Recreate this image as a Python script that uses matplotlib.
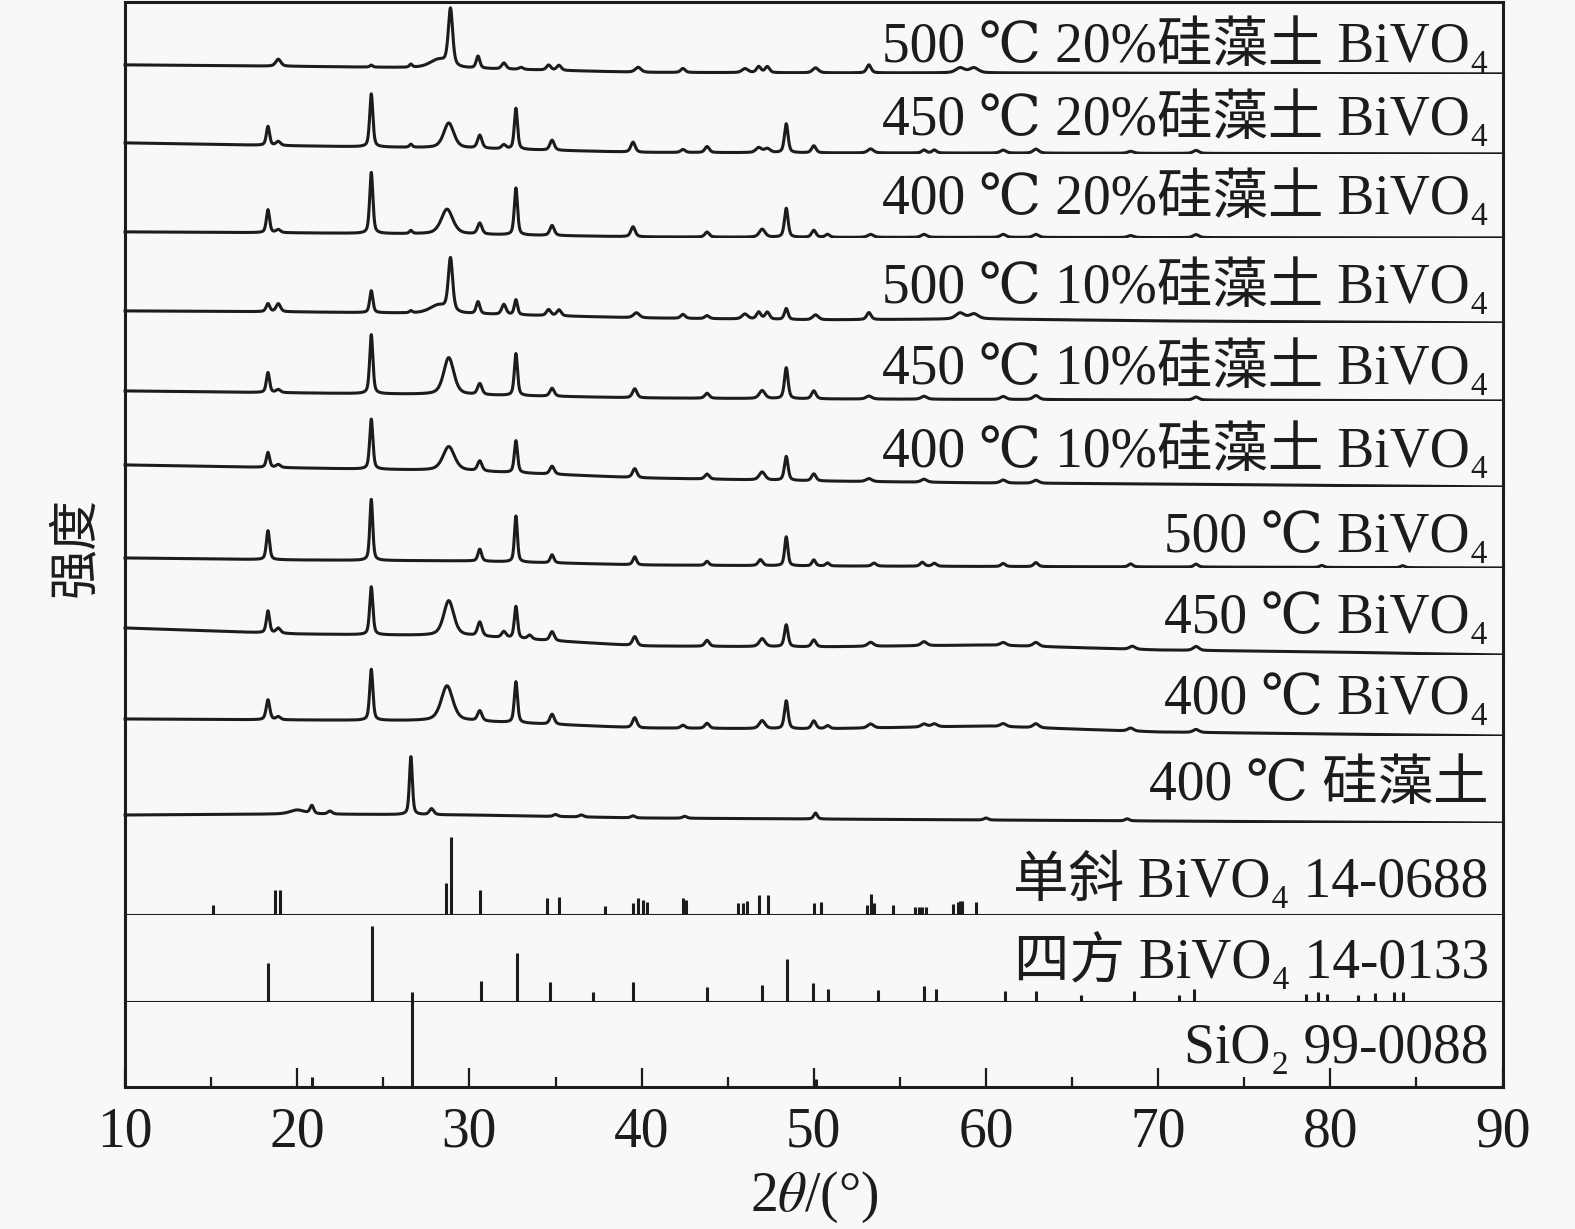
import numpy as np
import matplotlib
matplotlib.use("Agg")
import matplotlib.pyplot as plt

# ---- data (heights in panel pixels above the panel floor) ----
sample_labels = [
    "500 ℃ 20%硅藻土 BiVO₄", "450 ℃ 20%硅藻土 BiVO₄", "400 ℃ 20%硅藻土 BiVO₄",
    "500 ℃ 10%硅藻土 BiVO₄", "450 ℃ 10%硅藻土 BiVO₄", "400 ℃ 10%硅藻土 BiVO₄",
    "500 ℃ BiVO₄", "450 ℃ BiVO₄", "400 ℃ BiVO₄", "400 ℃ 硅藻土",
]
ref_labels = ["单斜 BiVO₄ 14-0688", "四方 BiVO₄ 14-0133", "SiO₂ 99-0088"]

bg_x = [10, 20, 30, 40, 50, 60, 70, 80, 90]

# 500 C, 20% diatomite
s1_pos = [18.9, 24.3, 26.6, 28.2, 28.9, 30.5, 32.0, 33.0, 34.6, 35.2, 39.8, 42.4, 46.0, 46.8, 47.3, 50.1, 53.2, 58.5, 59.3]
s1_h = [7, 2, 3, 8, 57, 12, 6, 2, 5, 5, 5, 4, 4, 6, 6, 5, 8, 5, 5]
s1_w = [0.35, 0.2, 0.2, 1.2, 0.3, 0.25, 0.3, 0.3, 0.3, 0.3, 0.4, 0.3, 0.4, 0.3, 0.3, 0.4, 0.3, 0.6, 0.6]
s1_bg = [9, 7.5, 5.5, 1.5, 1, 1, 0.6, 0.3, 0]

# 450 C, 20% diatomite
s2_pos = [18.3, 18.9, 24.3, 26.6, 28.8, 30.6, 32.0, 32.7, 34.8, 39.5, 42.4, 43.8, 46.8, 47.3, 48.4, 50.0, 53.3, 56.4, 57.0, 61.0, 62.9, 68.4, 72.2]
s2_h = [19, 4, 53, 3, 25, 13, 4, 41, 10, 10, 3, 6, 5, 4, 29, 7, 4, 3, 3, 3, 4, 2, 3]
s2_w = [0.22, 0.3, 0.22, 0.2, 0.7, 0.3, 0.3, 0.22, 0.3, 0.3, 0.3, 0.3, 0.4, 0.4, 0.25, 0.3, 0.4, 0.3, 0.3, 0.4, 0.4, 0.4, 0.4]
s2_bg = [11, 8, 5.5, 1.5, 1, 0.8, 0.5, 0.3, 0]

# 400 C, 20% diatomite
s3_pos = [18.3, 18.9, 24.3, 26.6, 28.7, 30.6, 32.7, 34.8, 39.5, 43.8, 47.0, 48.4, 50.0, 50.8, 53.3, 56.4, 61.0, 62.9, 68.4, 72.2]
s3_h = [23, 3, 61, 3, 25, 11, 47, 10, 10, 5, 8, 29, 7, 3, 3, 3, 3, 3, 2, 3]
s3_w = [0.22, 0.3, 0.22, 0.2, 0.8, 0.3, 0.22, 0.3, 0.3, 0.3, 0.4, 0.25, 0.3, 0.3, 0.4, 0.4, 0.4, 0.4, 0.4, 0.4]
s3_bg = [6, 5, 3.5, 1, 0.5, 0.5, 0.3, 0.2, 0]

# 500 C, 10% diatomite
s4_pos = [18.3, 18.9, 24.3, 26.6, 28.2, 28.9, 30.5, 32.0, 32.7, 34.6, 35.2, 39.7, 42.4, 43.8, 46.0, 46.8, 47.3, 48.4, 50.1, 53.2, 58.5, 59.3]
s4_h = [8, 8, 22, 2, 8, 53, 12, 10, 15, 6, 6, 5, 4, 3, 5, 7, 7, 11, 5, 7, 6, 5]
s4_w = [0.25, 0.3, 0.22, 0.2, 1.2, 0.3, 0.25, 0.3, 0.22, 0.3, 0.3, 0.4, 0.3, 0.3, 0.4, 0.3, 0.3, 0.25, 0.4, 0.3, 0.6, 0.6]
s4_bg = [12, 11, 9, 5, 3, 4, 2, 1, 0]

# 450 C, 10% diatomite
s5_pos = [18.3, 18.9, 24.3, 28.8, 30.6, 32.7, 34.8, 39.6, 43.8, 47.0, 48.4, 50.0, 53.2, 56.4, 61.0, 62.9, 72.2]
s5_h = [20, 3, 59, 37, 11, 42, 8, 9, 5, 8, 31, 8, 3, 3, 3, 4, 3]
s5_w = [0.22, 0.3, 0.22, 0.7, 0.3, 0.22, 0.3, 0.3, 0.3, 0.4, 0.25, 0.3, 0.4, 0.4, 0.4, 0.4, 0.4]
s5_bg = [10, 8, 6, 3, 2, 1.5, 1, 0.5, 0]

# 400 C, 10% diatomite
s6_pos = [18.3, 18.9, 24.3, 28.8, 30.6, 32.7, 34.8, 39.6, 43.8, 47.0, 48.4, 50.0, 53.2, 56.4, 61.0, 62.9]
s6_h = [15, 3, 50, 24, 10, 32, 8, 9, 5, 8, 24, 7, 3, 3, 3, 3]
s6_w = [0.22, 0.3, 0.22, 0.8, 0.3, 0.22, 0.3, 0.3, 0.3, 0.4, 0.25, 0.3, 0.4, 0.4, 0.4, 0.4]
s6_bg = [22, 19, 16, 9, 6, 4, 3, 1.5, 0]

# 500 C BiVO4
s7_pos = [18.3, 24.3, 30.6, 32.7, 34.8, 39.6, 43.8, 46.9, 48.4, 50.0, 50.8, 53.5, 56.3, 57.0, 61.0, 62.9, 68.4, 72.2, 79.5, 84.2]
s7_h = [29, 61, 12, 46, 8, 8, 4, 6, 29, 6, 3, 3, 4, 3, 3, 4, 3, 3, 2, 2]
s7_w = [0.22, 0.2, 0.25, 0.2, 0.25, 0.25, 0.25, 0.3, 0.22, 0.25, 0.25, 0.3, 0.3, 0.3, 0.3, 0.3, 0.3, 0.3, 0.3, 0.3]
s7_bg = [10, 8, 7, 3, 2, 1.5, 1, 0.5, 0]

# 450 C BiVO4
s8_pos = [18.3, 18.9, 24.3, 28.8, 30.6, 32.0, 32.7, 33.5, 34.8, 39.6, 43.8, 47.0, 48.4, 50.0, 53.3, 56.4, 61.0, 62.9, 68.5, 72.2]
s8_h = [22, 5, 48, 35, 14, 6, 32, 4, 9, 9, 6, 8, 22, 7, 4, 4, 3, 4, 3, 4]
s8_w = [0.22, 0.3, 0.22, 0.7, 0.3, 0.3, 0.22, 0.3, 0.3, 0.3, 0.3, 0.4, 0.25, 0.3, 0.4, 0.4, 0.4, 0.4, 0.4, 0.4]
s8_bg = [27, 21, 19, 9, 8, 10, 5, 3, 0]

# 400 C BiVO4
s9_pos = [18.3, 18.9, 24.3, 28.7, 30.6, 32.7, 34.8, 39.6, 42.4, 43.8, 47.0, 48.4, 50.0, 50.8, 53.3, 56.4, 57.0, 61.0, 62.9, 68.4, 72.2]
s9_h = [20, 3, 51, 35, 10, 41, 10, 10, 3, 5, 8, 28, 8, 3, 4, 3, 3, 3, 4, 3, 3]
s9_w = [0.25, 0.3, 0.22, 0.8, 0.3, 0.22, 0.3, 0.3, 0.3, 0.3, 0.4, 0.25, 0.3, 0.3, 0.4, 0.4, 0.4, 0.4, 0.4, 0.4, 0.4]
s9_bg = [17, 16, 15, 8, 7, 10, 4, 2, 0]

# 400 C diatomite
s10_pos = [20.0, 20.85, 21.9, 26.6, 27.8, 35.0, 36.5, 39.5, 42.5, 50.1, 60.0, 68.2]
s10_h = [4, 8, 3, 58, 6, 2, 2, 2, 2, 6, 2, 2]
s10_w = [1.0, 0.25, 0.3, 0.2, 0.3, 0.3, 0.3, 0.3, 0.3, 0.25, 0.3, 0.3]
s10_bg = [8, 9, 8, 5, 4, 3, 2, 1, 0]

# reference cards (stick patterns)
mono_pos = [15.1, 18.7, 19.0, 28.65, 28.95, 30.6, 34.5, 35.2, 37.9, 39.5, 39.8, 40.1, 40.3, 42.4, 42.6,
            45.6, 45.9, 46.1, 46.8, 47.35, 50.0, 50.4, 53.1, 53.35, 53.5, 54.6, 55.9, 56.1, 56.3, 56.5,
            58.1, 58.35, 58.5, 58.6, 59.4]
mono_h = [10, 25, 25, 32, 78, 25, 17, 18, 9, 12, 17, 15, 13, 17, 15,
          12, 12, 14, 20, 20, 12, 13, 10, 21, 12, 10, 8, 8, 8, 8,
          11, 13, 14, 14, 13]

tetra_pos = [18.3, 24.35, 30.7, 32.75, 34.7, 37.2, 39.5, 43.8, 47.0, 48.45, 49.97, 50.85, 53.7, 56.4, 57.1,
             61.1, 62.9, 65.5, 68.6, 71.2, 72.1, 78.6, 79.3, 79.8, 81.6, 82.6, 83.7, 84.2]
tetra_h = [39, 76, 21, 49, 20, 10, 20, 15, 17, 43, 19, 13, 12, 16, 13,
           11, 11, 7, 11, 7, 13, 8, 10, 8, 7, 9, 10, 10]

sio2_pos = [20.86, 26.64, 50.14]
sio2_h = [10, 95, 8]

patterns = [
    (s1_pos, s1_h, s1_w, s1_bg), (s2_pos, s2_h, s2_w, s2_bg), (s3_pos, s3_h, s3_w, s3_bg),
    (s4_pos, s4_h, s4_w, s4_bg), (s5_pos, s5_h, s5_w, s5_bg), (s6_pos, s6_h, s6_w, s6_bg),
    (s7_pos, s7_h, s7_w, s7_bg), (s8_pos, s8_h, s8_w, s8_bg), (s9_pos, s9_h, s9_w, s9_bg),
    (s10_pos, s10_h, s10_w, s10_bg),
]
sticks = [(mono_pos, mono_h), (tetra_pos, tetra_h), (sio2_pos, sio2_h)]

# ---- drawing ----
BG = "#f8f8f8"
INK = "#1c1c1c"
label_font = ["Liberation Serif", "DejaVu Serif", "Noto Sans CJK SC"]
plt.rcParams["mathtext.fontset"] = "stix"

# panel heights in pixels, top to bottom, and label baseline height inside each panel
panel_px = [72, 80, 84, 85, 78, 86, 81, 87, 81, 87, 92, 87, 85]
label_base = [12, 19, 24, 20, 17, 20, 16, 22, 22, 23, 18, 24, 24]

xg = np.linspace(10, 90, 4001)


def profile(pos, h, w, bg):
    # pseudo-Voigt peaks on top of the read background
    y = np.interp(xg, bg_x, bg)
    for p, a, fw in zip(pos, h, w):
        hw = fw / 2
        lor = 1 / (1 + ((xg - p) / hw) ** 2)
        gau = np.exp(-np.log(2) * ((xg - p) / hw) ** 2)
        y = y + a * (0.5 * lor + 0.5 * gau)
    return y


fig = plt.figure(figsize=(15.75, 12.29), dpi=100, facecolor=BG)
n = len(patterns) + len(sticks)
axes = fig.subplots(n, 1, sharex=True,
                    gridspec_kw=dict(hspace=0, height_ratios=panel_px,
                                     left=0.0794, right=0.954, top=0.9985, bottom=0.1155))

all_labels = sample_labels + ref_labels
for i, ax in enumerate(axes):
    ax.set_facecolor(BG)
    ax.set_xlim(10, 90)
    ax.set_ylim(0, panel_px[i])
    ax.set_yticks([])
    for s in ax.spines.values():
        s.set_linewidth(2.2)
        s.set_color(INK)
    ax.spines["top"].set_visible(i == 0)
    if i < len(patterns):
        ax.spines["bottom"].set_visible(False)
        pos, h, w, bg = patterns[i]
        ax.plot(xg, profile(pos, h, w, bg), color=INK, lw=2.2, clip_on=False,
                solid_joinstyle="round")
    else:
        pos, h = sticks[i - len(patterns)]
        ax.vlines(pos, 0, h, color=INK, lw=2.2, clip_on=False)
    ax.tick_params(axis="x", which="both", bottom=False, top=False, labelbottom=False)
    ax.text(0.99, label_base[i], all_labels[i], transform=ax.get_yaxis_transform(),
            ha="right", va="baseline", fontsize=40, family=label_font, color=INK)

bottom = axes[-1]
bottom.set_xticks(np.arange(10, 91, 10))
bottom.set_xticks(np.arange(15, 90, 10), minor=True)
bottom.tick_params(axis="x", which="major", bottom=True, labelbottom=True, direction="in",
                   length=14, width=1.6, pad=14, labelsize=40, colors=INK)
bottom.tick_params(axis="x", which="minor", bottom=True, direction="in", length=7, width=1.6, colors=INK)
for t in bottom.get_xticklabels():
    t.set_family("Liberation Serif")
bottom.set_xlabel(r"2$\theta$/(°)", fontsize=40, family="Liberation Serif", labelpad=8, color=INK)

fig.text(0.0476, 0.555, "强度", rotation=90, ha="center", va="center", fontsize=36,
         family=["Noto Sans CJK SC"], color=INK)

fig.savefig("out.png", dpi=100, facecolor=BG)
